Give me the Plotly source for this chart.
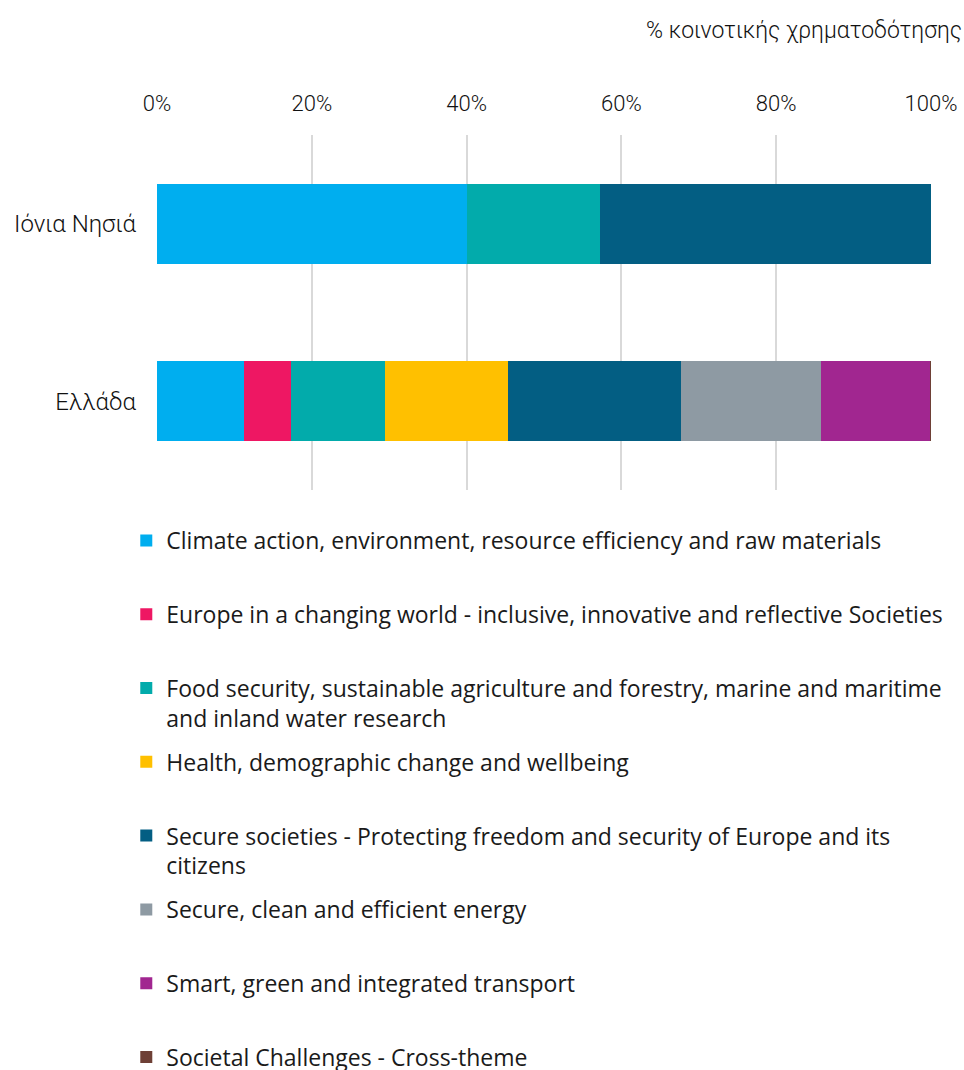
import plotly.graph_objects as go

regions = ["Ιόνια Νησιά", "Ελλάδα"]

themes = [
    "Climate action, environment, resource efficiency and raw materials",
    "Europe in a changing world - inclusive, innovative and reflective Societies",
    "Food security, sustainable agriculture and forestry, marine and maritime<br>and inland water research",
    "Health, demographic change and wellbeing",
    "Secure societies - Protecting freedom and security of Europe and its<br>citizens",
    "Secure, clean and efficient energy",
    "Smart, green and integrated transport",
    "Societal Challenges - Cross-theme",
]

# % share per region (Ionian Islands, Greece)
climate = [40.1, 11.2]
europe = [0.0, 6.1]
food = [17.1, 12.2]
health = [0.0, 15.8]
secure_soc = [42.8, 22.4]
energy = [0.0, 18.1]
transport = [0.0, 14.1]
cross_theme = [0.0, 0.1]

values = [climate, europe, food, health, secure_soc, energy, transport, cross_theme]
colors = ["#00AEEF", "#EE1763", "#02ABAB", "#FFC000", "#035E83", "#8E9AA3", "#A12690", "#6E4036"]

fig = go.Figure()
for i, (name, vals, col) in enumerate(zip(themes, values, colors)):
    # pad single-line entries to two lines so every legend row is the same height
    label = name if ("<br>" in name or i == len(themes) - 1) else name + "<br> "
    fig.add_trace(go.Bar(
        y=regions, x=vals, name=label, orientation="h",
        marker=dict(color=col, line=dict(width=0)),
        legendgroup=str(i),
        hovertemplate="%{y}: %{x:.1f}%<extra></extra>",
    ))

fig.update_layout(
    width=964, height=1070,
    barmode="stack", bargap=0.55,
    plot_bgcolor="white", paper_bgcolor="white",
    margin=dict(l=157, r=33, t=135, b=580, autoexpand=False),
    title=dict(
        text="% κοινοτικής χρηματοδότησης",
        font=dict(family="Roboto", size=23, color="#111111", weight=300),
        x=0.998, xanchor="right", xref="container",
        y=0.972, yanchor="middle", yref="container",
    ),
    xaxis=dict(
        side="top", range=[0, 100], dtick=20, ticksuffix="%",
        showgrid=True, gridcolor="#D9D9D9", gridwidth=2,
        zeroline=False, showline=False,
        tickfont=dict(family="Roboto", size=22, color="#111111", weight=300),
        ticklabelstandoff=19,
    ),
    yaxis=dict(
        autorange="reversed", showgrid=False, showline=False,
        tickfont=dict(family="Roboto", size=24, color="#111111", weight=300),
        ticklabelstandoff=20,
    ),
    showlegend=True,
    legend=dict(
        orientation="v", traceorder="grouped",
        x=0.131, xanchor="left", xref="container",
        y=0.515, yanchor="top", yref="container",
        font=dict(family="Open Sans", size=23, color="#1a1a1a"),
        valign="top", tracegroupgap=11, maxheight=700,
        bgcolor="rgba(0,0,0,0)",
    ),
)

# drop the page's default 8px body margin so the figure sits at the window corner
fig.write_html("out.html", config={"displayModeBar": False},
               post_script="document.body.style.margin='0';")
